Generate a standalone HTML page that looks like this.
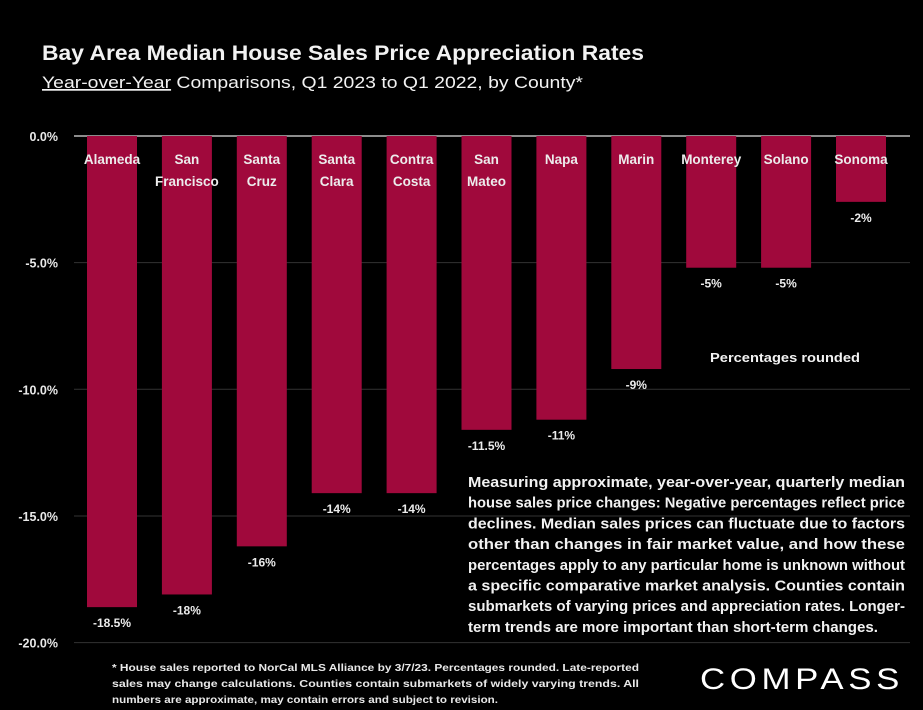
<!DOCTYPE html>
<html><head><meta charset="utf-8"><style>
html,body{margin:0;padding:0;background:#000;}
svg{display:block;font-family:"Liberation Sans",sans-serif;}
</style></head><body>
<svg id="chart" width="923" height="710" viewBox="0 0 923 710" xmlns="http://www.w3.org/2000/svg">
<rect width="923" height="710" fill="#000"/>
<text x="42" y="60" fill="#f2f2f2" font-size="21" font-weight="bold" textLength="602" lengthAdjust="spacingAndGlyphs">Bay Area Median House Sales Price Appreciation Rates</text>
<text x="42" y="88" fill="#f2f2f2" font-size="17" textLength="541" lengthAdjust="spacingAndGlyphs"><tspan text-decoration="underline">Year-over-Year</tspan> Comparisons, Q1 2023 to Q1 2022, by County*</text>
<g id="grid"></g>
<g id="bars"></g>
<text x="785" y="362" fill="#f2f2f2" font-size="13" font-weight="bold" text-anchor="middle" textLength="150" lengthAdjust="spacingAndGlyphs">Percentages rounded</text>
<g id="para" fill="#f2f2f2" font-size="14.5" font-weight="bold"></g>
<g id="foot" fill="#e8e8e8" font-size="10.5" font-weight="bold"></g>
<text x="700" y="689" fill="#ffffff" font-size="30" letter-spacing="4" textLength="204" lengthAdjust="spacingAndGlyphs">COMPASS</text>
</svg>
<script>
const categories=[["Alameda"],["San","Francisco"],["Santa","Cruz"],["Santa","Clara"],["Contra","Costa"],["San","Mateo"],["Napa"],["Marin"],["Monterey"],["Solano"],["Sonoma"]];
const values=[-18.6,-18.1,-16.2,-14.1,-14.1,-11.6,-11.2,-9.2,-5.2,-5.2,-2.6];
const valueLabels=["-18.5%","-18%","-16%","-14%","-14%","-11.5%","-11%","-9%","-5%","-5%","-2%"];
const ticks=[0,-5,-10,-15,-20];
const tickLabels=["0.0%","-5.0%","-10.0%","-15.0%","-20.0%"];
const NS="http://www.w3.org/2000/svg";
const y=v=>136+(-v)*25.33;
const xc=i=>112+i*74.9;
function mk(tag,attrs,parent,txt){const e=document.createElementNS(NS,tag);for(const k in attrs)e.setAttribute(k,attrs[k]);if(txt!==undefined)e.textContent=txt;parent.appendChild(e);return e;}
const grid=document.getElementById('grid');
ticks.forEach((t,i)=>{
  const l=mk('line',{x1:74,x2:910,y1:y(t),y2:y(t),stroke:t===0?'#bbbbbb':'#333333','stroke-width':t===0?1.5:1},grid);
  
  
  const tx=mk('text',{x:58,y:y(t)+5,fill:'#e8e8e8','font-size':12.5,'font-weight':'bold','text-anchor':'end'},grid,tickLabels[i]);
  
  
});
const bars=document.getElementById('bars');
values.forEach((v,i)=>{
  const r=mk('rect',{x:xc(i)-25,y:y(0),width:50,height:y(v)-y(0),fill:'#a0093c'},bars);
  
  
  categories[i].forEach((ln,j)=>{
    const t=mk('text',{x:xc(i),y:164+j*22,fill:'#ececec','font-size':13.5,'font-weight':'bold','text-anchor':'middle'},bars,ln);
    
    
  });
  const vl=mk('text',{x:xc(i),y:y(v)+20,fill:'#ececec','font-size':12,'font-weight':'bold','text-anchor':'middle'},bars,valueLabels[i]);
  
  
});
const paraLines=["Measuring approximate, year-over-year, quarterly median","house sales price changes: Negative percentages reflect price","declines. Median sales prices can fluctuate due to factors","other than changes in fair market value, and how these","percentages apply to any particular home is unknown without","a specific comparative market analysis. Counties contain","submarkets of varying prices and appreciation rates. Longer-","term trends are more important than short-term changes."];
const para=document.getElementById('para');
paraLines.forEach((s,i)=>{mk('text',{x:468,y:487+i*20.7,textLength:i===7?410:437,lengthAdjust:'spacingAndGlyphs'},para,s);});
const footLines=["* House sales reported to NorCal MLS Alliance by 3/7/23. Percentages rounded. Late-reported","sales may change calculations. Counties contain submarkets of widely varying trends. All","numbers are approximate, may contain errors and subject to revision."];
const foot=document.getElementById('foot');
footLines.forEach((s,i)=>{mk('text',{x:112,y:671+i*16,textLength:i===2?386:527,lengthAdjust:'spacingAndGlyphs'},foot,s);});
</script>
</body></html>
